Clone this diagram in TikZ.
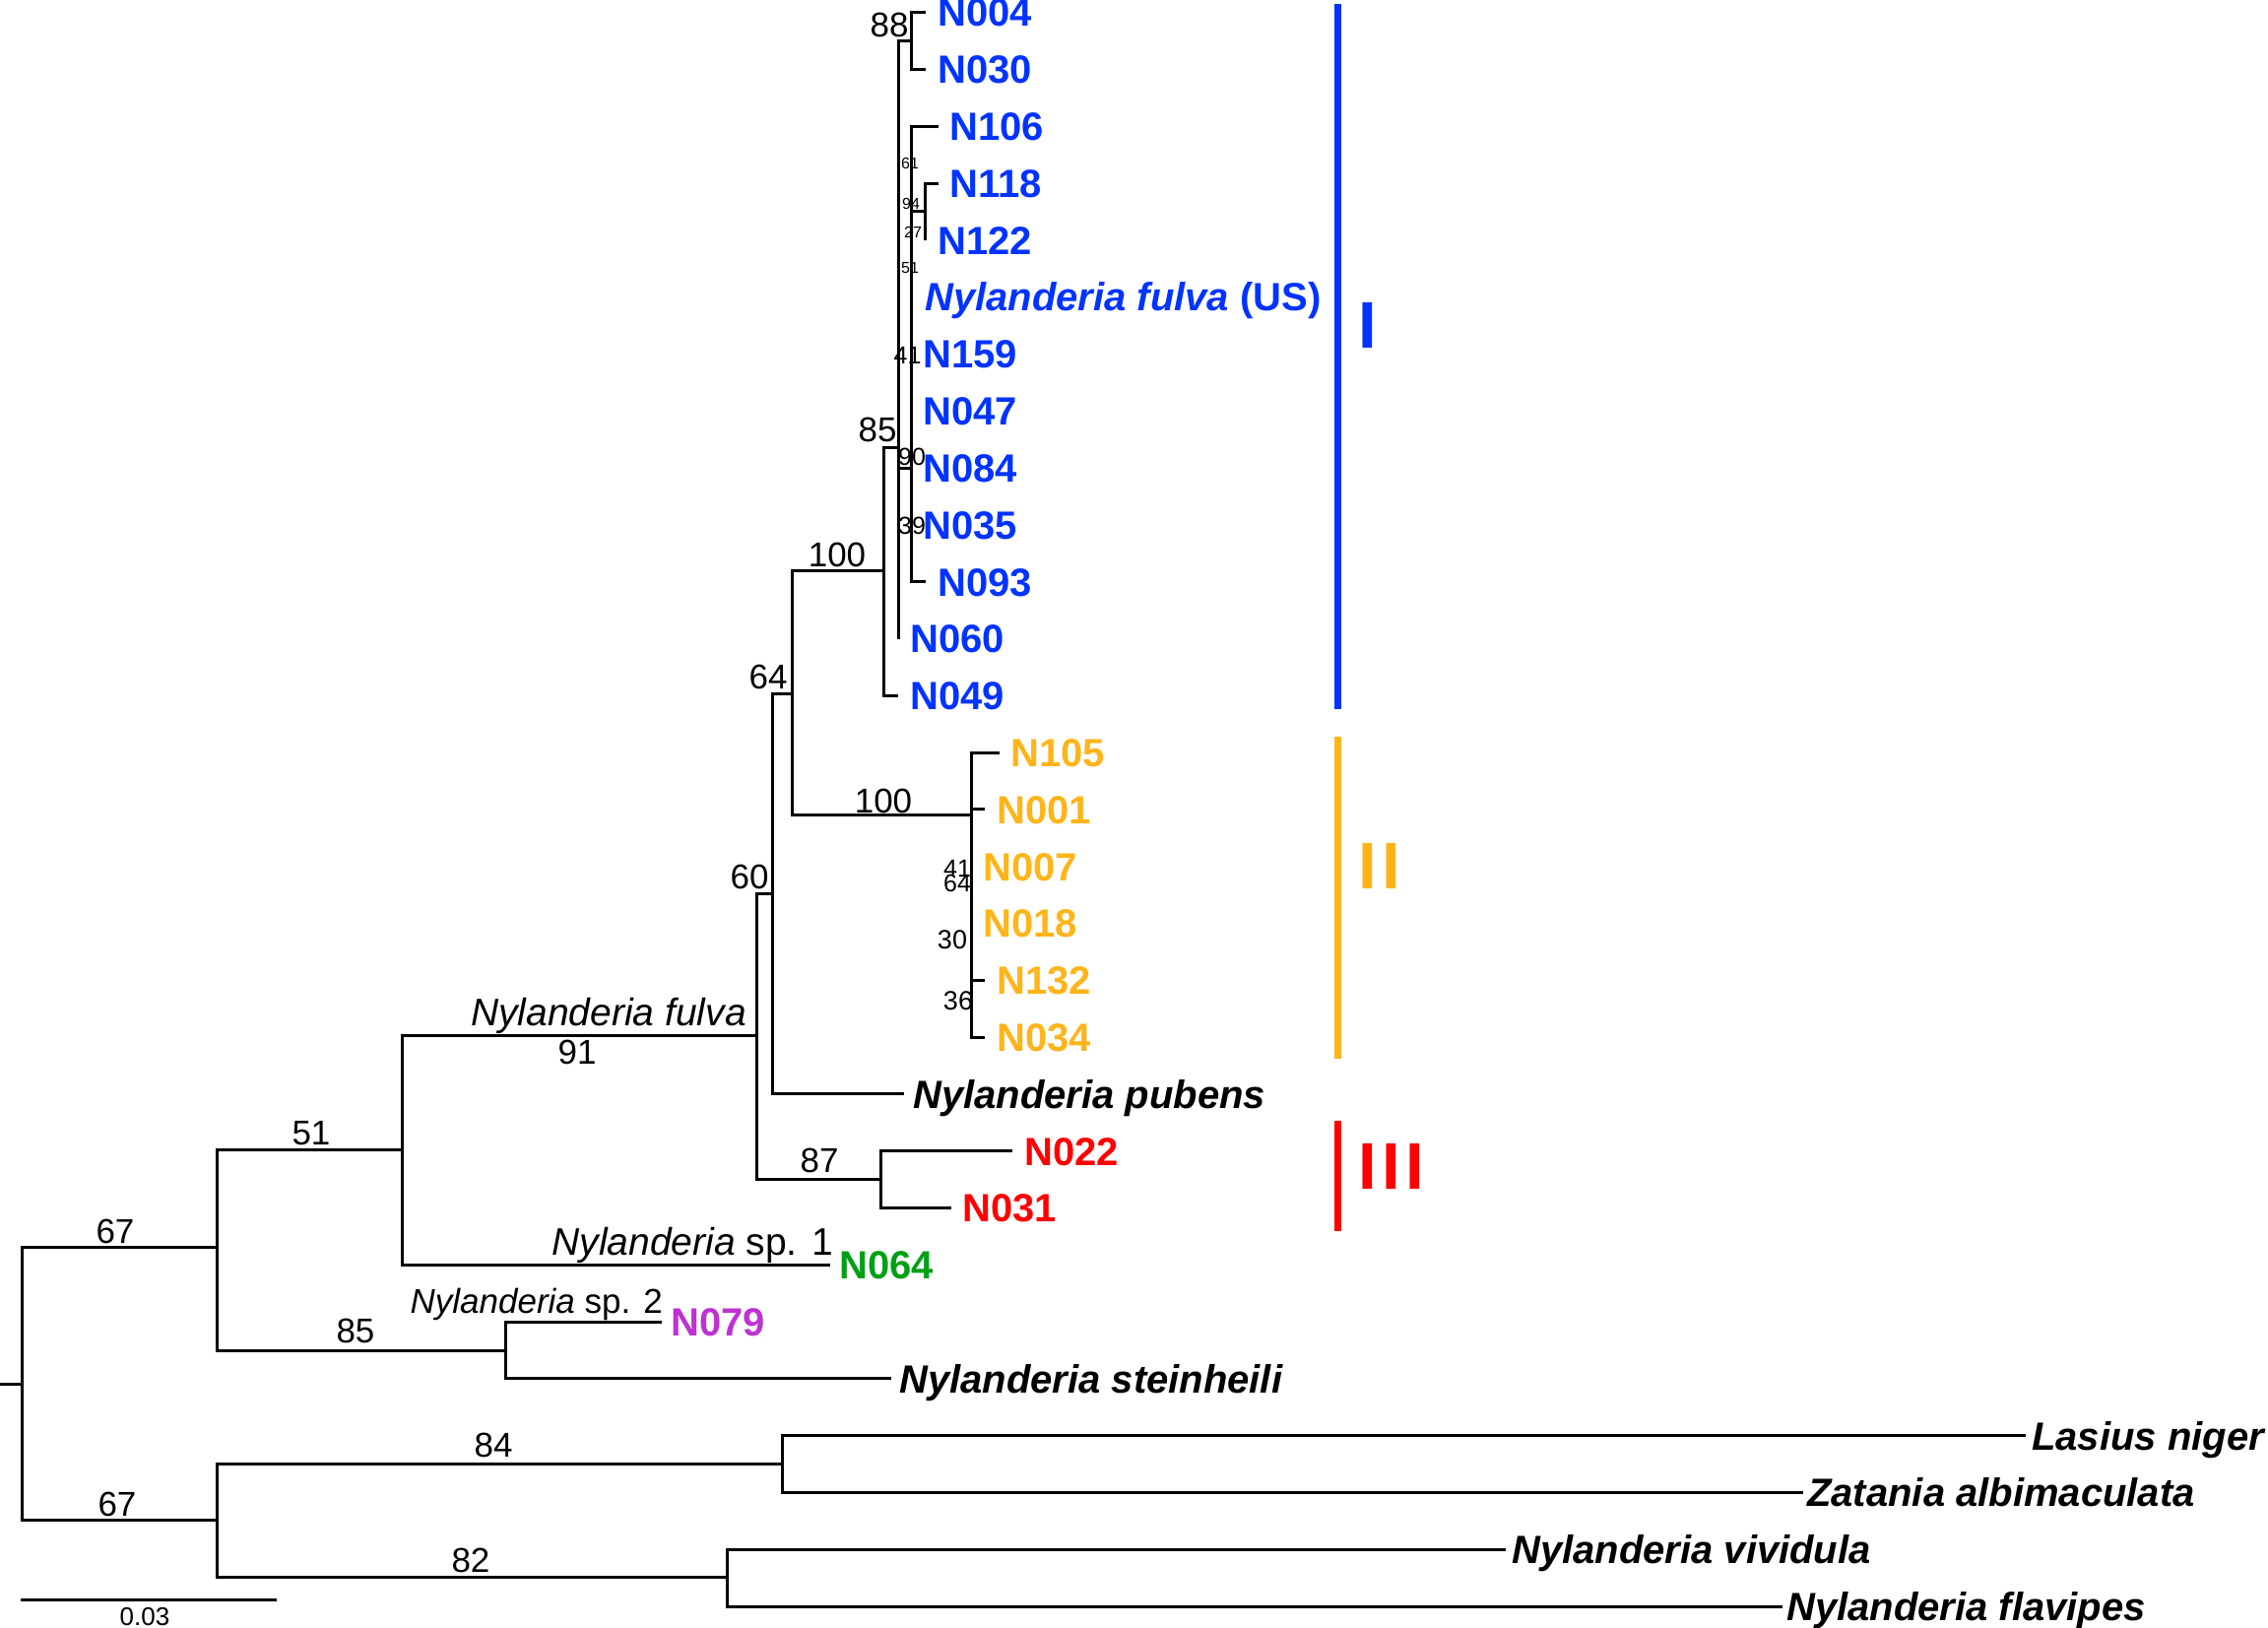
\documentclass[tikz,border=0pt]{standalone}
\usepackage{fontspec}
\setmainfont{Liberation Sans}
\definecolor{cblue}{RGB}{0,51,255}
\definecolor{corange}{RGB}{255,180,25}
\definecolor{cred}{RGB}{255,0,0}
\definecolor{cgreen}{RGB}{0,160,20}
\definecolor{cpurple}{RGB}{190,50,210}
\begin{document}
\begin{tikzpicture}[x=1pt,y=-1pt,
  br/.style={line width=3pt},
  cbar/.style={line width=7pt},
  tipn/.style={anchor=base west, inner sep=0pt, font=\fontsize{40}{47}\selectfont\bfseries},
  tipsp/.style={anchor=base west, inner sep=0pt, font=\fontsize{40}{47}\selectfont\bfseries\itshape},
  boot/.style={anchor=base, inner sep=0pt, font=\fontsize{35}{42}\selectfont},
  bootxs/.style={anchor=base, inner sep=0pt, font=\fontsize{16}{19}\selectfont},
  boots/.style={anchor=base, inner sep=0pt, font=\fontsize{25}{30}\selectfont},
  bootm/.style={anchor=base, inner sep=0pt, font=\fontsize{27}{32}\selectfont},
  brlab/.style={anchor=base east, inner sep=0pt, font=\fontsize{39}{46}\selectfont},
  roman/.style={anchor=base west, inner sep=0pt, font=\fontsize{67}{80}\selectfont\bfseries}]
\useasboundingbox (0,0) rectangle (2303,1653);

% internal nodes
\coordinate (root0) at (0,1405);
\coordinate (R) at (22,1405);
\coordinate (U67) at (220,1266);
\coordinate (L67) at (220,1543);
\coordinate (N51) at (408,1167);
\coordinate (N85b) at (513,1371);
\coordinate (N91) at (768,1051);
\coordinate (N60) at (784,907);
\coordinate (N87) at (894,1197.6);
\coordinate (N64) at (804,704.5);
\coordinate (C100) at (897,579);
\coordinate (O100) at (986,827.7);
\coordinate (A) at (912,454);
\coordinate (N88) at (925,41.6);
\coordinate (B) at (925,475);
\coordinate (N1822) at (939,215);
\coordinate (N84) at (794,1486);
\coordinate (N82) at (738,1601);

% tips
\coordinate (tN004) at (940,12.7);
\coordinate (tN030) at (940,70.5);
\coordinate (tN106) at (953,128.3);
\coordinate (tN118) at (953,186.1);
\coordinate (tN122) at (939,243.9);
\coordinate (tFUS) at (925,301.7);
\coordinate (tN159) at (925,359.5);
\coordinate (tN047) at (925,417.3);
\coordinate (tN084) at (925,475.1);
\coordinate (tN035) at (925,532.9);
\coordinate (tN093) at (940,590.7);
\coordinate (tN060) at (912,648.5);
\coordinate (tN049) at (912,706.3);
\coordinate (tN105) at (1015,764.1);
\coordinate (tN001) at (1000,821.9);
\coordinate (tN007) at (986,879.7);
\coordinate (tN018) at (986,937.5);
\coordinate (tN132) at (1000,995.3);
\coordinate (tN034) at (1000,1053.1);
\coordinate (tPub) at (918,1110.9);
\coordinate (tN022) at (1028,1168.7);
\coordinate (tN031) at (966,1226.5);
\coordinate (tN064) at (843,1284.3);
\coordinate (tN079) at (672,1342.1);
\coordinate (tSte) at (905,1399.9);
\coordinate (tLas) at (2057,1457.7);
\coordinate (tZat) at (1831,1515.5);
\coordinate (tViv) at (1529,1573.3);
\coordinate (tFla) at (1810,1631.1);

% branches
\draw[br] (root0) -- (R);
\draw[br] (R) |- (U67);
\draw[br] (R) |- (L67);
\draw[br] (U67) |- (N51);
\draw[br] (U67) |- (N85b);
\draw[br] (N51) |- (N91);
\draw[br] (N51) |- (tN064);
\draw[br] (N91) |- (N60);
\draw[br] (N91) |- (N87);
\draw[br] (N60) |- (N64);
\draw[br] (N60) |- (tPub);
\draw[br] (N64) |- (C100);
\draw[br] (N64) |- (O100);
\draw[br] (C100) |- (A);
\draw[br] (C100) |- (tN049);
\draw[br] (A) |- (N88);
\draw[br] (A) |- (B);
\draw[br] (A) |- (tN060);
\draw[br] (N88) |- (tN004);
\draw[br] (N88) |- (tN030);
\draw[br] (B) |- (tN106);
\draw[br] (B) |- (N1822);
\draw[br] (B) |- (tFUS);
\draw[br] (B) |- (tN093);
\draw[br] (N1822) |- (tN118);
\draw[br] (N1822) |- (tN122);
\draw[br] (O100) |- (tN105);
\draw[br] (O100) |- (tN001);
\draw[br] (O100) |- (tN132);
\draw[br] (O100) |- (tN034);
\draw[br] (N87) |- (tN022);
\draw[br] (N87) |- (tN031);
\draw[br] (N85b) |- (tN079);
\draw[br] (N85b) |- (tSte);
\draw[br] (L67) |- (N84);
\draw[br] (L67) |- (N82);
\draw[br] (N84) |- (tLas);
\draw[br] (N84) |- (tZat);
\draw[br] (N82) |- (tViv);
\draw[br] (N82) |- (tFla);

% tip labels
\node[tipn, text=cblue] (lN004) at (952,27) {N004};
\node[tipn, text=cblue] (lN030) at (952,84.8) {N030};
\node[tipn, text=cblue] (lN106) at (964,142.6) {N106};
\node[tipn, text=cblue] (lN118) at (964,200.4) {N118};
\node[tipn, text=cblue] (lN122) at (952,258.2) {N122};
\node[tipn, text=cblue] (lFUS) at (939,316) {\itshape Nylanderia fulva\/ \upshape(US)};
\node[tipn, text=cblue] (lN159) at (937,373.8) {N159};
\node[tipn, text=cblue] (lN047) at (937,431.6) {N047};
\node[tipn, text=cblue] (lN084) at (937,489.4) {N084};
\node[tipn, text=cblue] (lN035) at (937,547.2) {N035};
\node[tipn, text=cblue] (lN093) at (952,605) {N093};
\node[tipn, text=cblue] (lN060) at (924,662.8) {N060};
\node[tipn, text=cblue] (lN049) at (924,720.6) {N049};
\node[tipn, text=corange] (lN105) at (1026,778.4) {N105};
\node[tipn, text=corange] (lN001) at (1012,836.2) {N001};
\node[tipn, text=corange] (lN007) at (998,894) {N007};
\node[tipn, text=corange] (lN018) at (998,951.8) {N018};
\node[tipn, text=corange] (lN132) at (1012,1009.6) {N132};
\node[tipn, text=corange] (lN034) at (1012,1067.4) {N034};
\node[tipsp] (lPub) at (927,1125.2) {Nylanderia pubens};
\node[tipn, text=cred] (lN022) at (1040,1183) {N022};
\node[tipn, text=cred] (lN031) at (977,1240.8) {N031};
\node[tipn, text=cgreen] (lN064) at (852,1298.6) {N064};
\node[tipn, text=cpurple] (lN079) at (681,1356.4) {N079};
\node[tipsp] (lSte) at (913,1414.2) {Nylanderia steinheili};
\node[tipsp] (lLas) at (2063,1472) {Lasius niger};
\node[tipsp] (lZat) at (1835,1529.8) {Zatania albimaculata};
\node[tipsp] (lViv) at (1535,1587.6) {Nylanderia vividula};
\node[tipsp] (lFla) at (1814,1645.4) {Nylanderia flavipes};

% branch labels
\node[brlab] (bFulva) at (758,1041) {\itshape Nylanderia fulva};
\node[brlab] (bSp1) at (846,1274) {\itshape Nylanderia\/ \upshape sp. 1};
\node[brlab, font=\fontsize{35}{42}\selectfont] (bSp2) at (673,1333) {\itshape Nylanderia\/ \upshape sp. 2};

% bootstrap values
\node[boot] (s67a) at (117,1262) {67};
\node[boot] (s67b) at (119,1539) {67};
\node[boot] (s51) at (316,1162) {51};
\node[boot] (s91) at (586,1080) {91};
\node[boot] (s85b) at (361,1363) {85};
\node[boot] (s84) at (501,1479) {84};
\node[boot] (s82) at (478,1596) {82};
\node[boot] (s87) at (832,1190) {87};
\node[boot] (s60) at (761,902) {60};
\node[boot] (s64) at (780,699) {64};
\node[boot] (s100a) at (850,575) {100};
\node[boot] (s100b) at (897,825) {100};
\node[boot] (s85a) at (891,448) {85};
\node[boot] (s88) at (903,38) {88};
\node[bootxs] (s61) at (924,172) {61};
\node[bootxs] (s94) at (925,213) {94};
\node[bootxs] (s27) at (927,242) {27};
\node[bootxs] (s51b) at (924,278) {51};
\node[boots] (s41a) at (921.5,370) {41};
\node[boots] (s90) at (926,472) {90};
\node[boots] (s39) at (926,542) {39};
\node[boots] (s41b) at (972,890) {41};
\node[boots] (s64b) at (972,905) {64};
\node[bootm] (s30) at (967,963) {30};
\node[bootm] (s36) at (973,1025) {36};

% clade bars
\coordinate (barIa) at (1358,4);
\coordinate (barIb) at (1358,720);
\coordinate (barIIa) at (1358,748);
\coordinate (barIIb) at (1358,1075);
\coordinate (barIIIa) at (1358,1138);
\coordinate (barIIIb) at (1358,1250);
\draw[cbar, cblue] (barIa) -- (barIb);
\draw[cbar, corange] (barIIa) -- (barIIb);
\draw[cbar, cred] (barIIIa) -- (barIIIb);
\node[roman, text=cblue] (rI) at (1379,353) {I};
\node[roman, text=corange] (rII) at (1379,902) {I\kern5.4pt I};
\node[roman, text=cred] (rIII) at (1379,1207) {I\kern5.4pt I\kern5.4pt I};

% scale bar
\coordinate (sb1) at (20.6,1624);
\coordinate (sb2) at (280.5,1624);
\draw[br] (sb1) -- (sb2);
\node[anchor=base, inner sep=0pt, font=\fontsize{26}{31}\selectfont] (sbl) at (147,1650) {0.03};
\end{tikzpicture}
\end{document}
